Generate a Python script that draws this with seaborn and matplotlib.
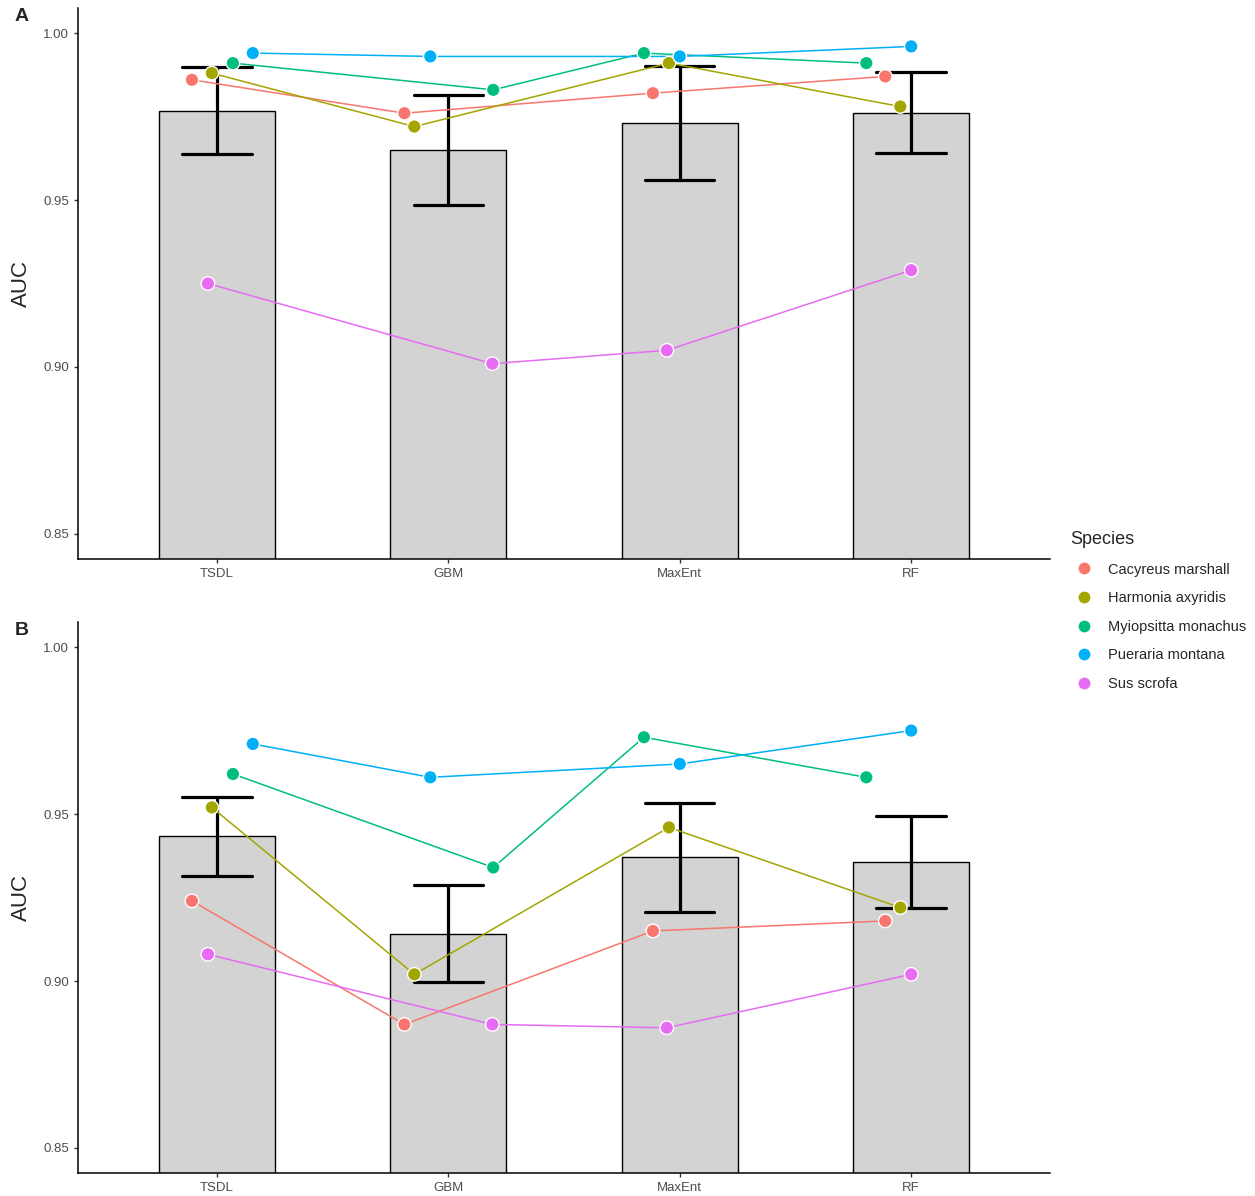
import matplotlib
matplotlib.use('Agg')
import matplotlib.pyplot as plt
from matplotlib.lines import Line2D
import seaborn as sns
import numpy as np
import pandas as pd

##################################################################################
# data
##################################################################################
MODELS = ['TSDL', 'GBM', 'MaxEnt', 'RF']
SPECIES = ['Cacyreus marshall', 'Harmonia axyridis', 'Myiopsitta monachus',
           'Pueraria montana', 'Sus scrofa']
COLORS = ['#F8766D', '#A3A500', '#00BF7D', '#00B0F6', '#E76BF3']

# AUC by species (rows) and model (columns)
AUC_A = [
    [0.986, 0.976, 0.982, 0.987],
    [0.988, 0.972, 0.991, 0.978],
    [0.991, 0.983, 0.994, 0.991],
    [0.994, 0.993, 0.993, 0.996],
    [0.925, 0.901, 0.905, 0.929],
]
AUC_B = [
    [0.924, 0.887, 0.915, 0.918],
    [0.952, 0.902, 0.946, 0.922],
    [0.962, 0.934, 0.973, 0.961],
    [0.971, 0.961, 0.965, 0.975],
    [0.908, 0.887, 0.886, 0.902],
]

# horizontal jitter of the points (model units), same in both panels
JITTER = [
    [-0.108, -0.190, -0.116, -0.112],
    [-0.022, -0.147, -0.047, -0.047],
    [ 0.069,  0.194, -0.155, -0.194],
    [ 0.155, -0.078,  0.000,  0.000],
    [-0.039,  0.190, -0.056,  0.000],
]

PANELS = ['A', 'B']


def to_frame(auc):
    rows = []
    for i_s, sp in enumerate(SPECIES):
        for i_m, mod in enumerate(MODELS):
            rows.append({'Model': mod, 'Species': sp, 'AUC': auc[i_s][i_m],
                         'xpos': i_m + JITTER[i_s][i_m]})
    return pd.DataFrame(rows)


##################################################################################
# plotting
##################################################################################
sns.set_style('ticks')
plt.rcParams['font.family'] = ['Liberation Sans', 'DejaVu Sans']

fig = plt.figure(figsize=(12.55, 11.96), dpi=100)
ax_a = fig.add_axes([0.0622, 0.5326, 0.7745, 0.4607])
ax_b = fig.add_axes([0.0622, 0.0192, 0.7745, 0.4607])
pal = dict(zip(SPECIES, COLORS))

for ax, auc, lab in zip([ax_a, ax_b], [AUC_A, AUC_B], PANELS):
    df = to_frame(auc)

    # bars = mean, error bars = mean +/- standard error
    sns.barplot(data=df, x='Model', y='AUC', order=MODELS, errorbar='se',
                color='#D3D3D3', saturation=1, width=0.5, edgecolor='black',
                linewidth=1.0, capsize=0.3,
                err_kws={'color': 'black', 'linewidth': 2.3}, ax=ax)
    for p in ax.patches:
        p.set_facecolor('#D3D3D3')

    sns.lineplot(data=df, x='xpos', y='AUC', hue='Species', palette=pal,
                 estimator=None, sort=True, legend=False, linewidth=1.1,
                 ax=ax, zorder=3)
    sns.scatterplot(data=df, x='xpos', y='AUC', hue='Species', palette=pal,
                    s=95, edgecolor='white', linewidth=1.0, legend=False,
                    ax=ax, zorder=4)

    ax.set_xlim(-0.6, 3.6)
    ax.set_ylim(0.8425, 1.0075)
    ax.set_yticks([0.85, 0.90, 0.95, 1.00])
    ax.set_yticklabels(['0.85', '0.90', '0.95', '1.00'])
    ax.set_xticks(range(len(MODELS)))
    ax.set_xticklabels(MODELS)
    ax.set_xlabel('')
    ax.set_ylabel('AUC', fontsize=16, labelpad=8)
    ax.tick_params(labelsize=9.5, labelcolor='#4D4D4D', color='#333333',
                   length=3, width=1)
    for s in ['left', 'bottom']:
        ax.spines[s].set_linewidth(1.1)
        ax.spines[s].set_color('black')
    sns.despine(ax=ax)

fig.text(0.0175, 0.986, 'A', fontsize=14, fontweight='bold',
         ha='center', va='center')
fig.text(0.0175, 0.473, 'B', fontsize=14, fontweight='bold',
         ha='center', va='center')

handles = [Line2D([0], [0], marker='o', linestyle='', markersize=9.5,
                  markerfacecolor=c, markeredgecolor='white') for c in COLORS]
leg = fig.legend(handles, SPECIES, title='Species', loc='upper left',
                 bbox_to_anchor=(0.842, 0.567), frameon=False, fontsize=10.5,
                 title_fontsize=13, labelspacing=1.0, handletextpad=0.6,
                 handlelength=2.0)
leg._legend_box.align = 'left'

plt.savefig('out.png', dpi=100)
